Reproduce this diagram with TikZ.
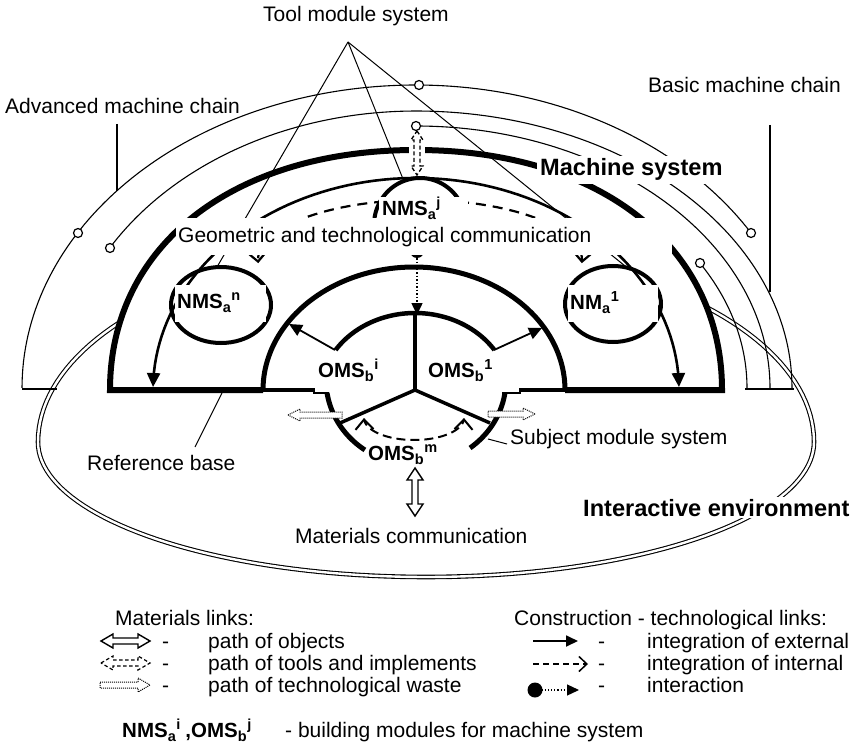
\documentclass[tikz,border=0pt]{standalone}
\usepackage{fontspec}
\setmainfont{Liberation Sans}
\usetikzlibrary{arrows.meta}
\newcommand\Earc[6]{plot[domain=#5:#6,samples=90,variable=\t]({#1+#3*cos(\t)},{#2-#4*sin(\t)})}
\newcommand\mlab[3]{{\fontsize{20.5}{24}\selectfont\bfseries #1\raisebox{-4pt}{\fontsize{14.5}{15}\selectfont #2}\hspace{0.6pt}\raisebox{8pt}{\fontsize{14.5}{15}\selectfont #3}}}
\tikzset{
  txt/.style={font=\fontsize{21}{25}\selectfont, inner sep=0pt, anchor=base west},
  bigb/.style={font=\fontsize{23.6}{28}\selectfont\bfseries, anchor=base west},
  modl/.style={inner sep=0pt, anchor=base west},
  thinl/.style={line width=1.1pt},
  leader/.style={line width=1pt},
  heavy/.style={line width=6pt},
  modarc/.style={line width=4pt},
  ring/.style={line width=1.2pt, fill=white},
  ext/.style={-{Triangle[length=13pt,width=12pt]}},
  hollow/.style={line width=1.4pt, fill=white, line join=miter},
}
\begin{document}
\begin{tikzpicture}[x=1pt,y=-1pt]
\useasboundingbox (0,0) rectangle (853,751);
\fill[white] (0,0) rectangle (853,751);

% interactive environment
\draw[line width=1.1pt, double=white, double distance=2.4pt] plot[domain=0:360,samples=181,variable=\t]({426+388*cos(\t)},{442-(165+30*sign(sin(\t)))*sin(\t)}) -- cycle;

% machine system area
\fill[white] (110,390) .. controls (110,246) and (232.4,150) .. (416,150) .. controls (599.6,150) and (722,246) .. (722,390) -- cycle;

% machine chains
\draw[thinl] plot[domain=30.8:180,samples=120,variable=\t]({416+(392-2*sign(cos(\t)))*cos(\t)},{388-303*sin(\t)});
\draw[thinl] plot[domain=0:149.6,samples=120,variable=\t]({416+(365.5+10.5*sign(cos(\t)))*cos(\t)},{388-277*sin(\t)});
\draw[thinl] \Earc{416}{388}{354}{262}{0}{90};
\draw[thinl] \Earc{416}{388}{331}{243}{0}{31};
\draw[thinl] (22,389) -- (57,389);
\draw[thinl] (745,389) -- (794,389);
\draw[thinl] (117,124) -- (117,191);
\draw[thinl] (770,125) -- (770,292);

% machine system outline
\draw[heavy, line join=miter] (263,390) -- (110,390) .. controls (110,246) and (232.4,150) .. (416,150) .. controls (599.6,150) and (722,246) .. (722,390) -- (565,390);
\fill[white] (409,143) rectangle (425,158);

% tool module system leaders
\coordinate (apex) at (348,42);
\draw[leader] (apex) -- (217,267);
\draw[leader] (apex) -- (403,179);
\draw[leader] (apex) -- (630,270);

% external integration arc
\draw[line width=2.6pt, {Triangle[length=14pt,width=13pt]}-{Triangle[length=14pt,width=13pt]}] \Earc{416}{390}{263}{212}{0.8}{179.2};

% internal (dashed) arc
\draw[line width=2.2pt, dash pattern=on 10pt off 7pt, {Straight Barb[length=8pt,width=16pt]}-{Straight Barb[length=8pt,width=16pt]}] \Earc{420}{260}{162}{60}{-3}{183};

% tool modules
\draw[modarc] \Earc{420}{225}{46}{47}{-22}{202};
\draw[modarc] (221,305) ellipse [x radius=50, y radius=38];
\draw[modarc] (613,304) ellipse [x radius=48, y radius=38];

% interaction
\fill (417,251) circle (7);
\draw[line width=1.5pt, dotted, -{Triangle[length=12pt,width=11pt]}] (417,251) -- (417,315);

% object module system
\draw[line width=5pt] \Earc{414}{390}{151}{123}{0}{180};
\draw[line width=4.5pt] \Earc{415}{395}{95}{82}{33.3}{146.7};
\draw[line width=3.5pt] (415,313) -- (415,390);
\draw[line width=3.5pt] (415,390) -- (340,423);
\draw[line width=3.5pt] (415,390) -- (490,423);
\draw[line width=4pt] (261,390) -- (315,390);
\draw[line width=2pt] (313,392.5) -- (329,392.5);
\draw[line width=4pt] (519,390) -- (567,390);
\draw[line width=2pt] (502,392.5) -- (521,392.5);
\draw[line width=5pt] \Earc{416}{380}{90}{85}{188.8}{235.4};
\draw[line width=5pt] \Earc{416}{380}{90}{85}{306.9}{351.2};
\draw[line width=1.8pt, ext] (335,350) -- (289,324);
\draw[line width=1.8pt, ext] (494,350) -- (542,328);

% white label boxes
\fill[white] (379,197) rectangle (468,218);
\fill[white] (175,285) rectangle (266,322);
\fill[white] (568,285) rectangle (658,322);
\fill[white] (176,218) rectangle (672,255);

% module labels
\node[modl] (nmsj) at (382,215) {\mlab{NMS}{a}{j}};
\node[modl] (nmsn) at (177,308) {\mlab{NMS}{a}{n}};
\node[modl] (nma1) at (570,309) {\mlab{NM}{a}{1}};
\node[modl] (omsi) at (318,377) {\mlab{OMS}{b}{i}};
\node[modl] (oms1) at (428,377) {\mlab{OMS}{b}{1}};
\node[modl] (omsm) at (368,460) {\mlab{OMS}{b}{m}};
\node[txt] (geo) at (178,242) {Geometric and technological communication};

\node[bigb, fill=white, inner sep=3pt] (ms) at (537,176) {Machine system};
\node[bigb, fill=white, inner sep=2pt] (ie) at (581,516) {Interactive environment};

% tools path
\draw[line width=1.3pt, dash pattern=on 4pt off 2.5pt, fill=white] (417,131) -- (423,140) -- (420,140) -- (420,166) -- (423,166) -- (417,175) -- (411,166) -- (414,166) -- (414,140) -- (411,140) -- cycle;

% chain joints
\draw[ring] (78,233) circle (4.5);
\draw[ring] (419,85) circle (4.5);
\draw[ring] (751,233) circle (4.5);
\draw[ring] (110,248) circle (4.5);
\draw[ring] (416,126) circle (4.5);
\draw[ring] (700,263) circle (4.5);

% waste paths
\draw[densely dotted, line width=1pt, fill=white] (288,415) -- (300,409) -- (300,412) -- (342,412) -- (342,418) -- (300,418) -- (300,421) -- cycle;
\draw[densely dotted, line width=1pt, fill=white] (535,414) -- (523,408) -- (523,411) -- (488,411) -- (488,417) -- (523,417) -- (523,420) -- cycle;

% internal integration in subject modules
\draw[line width=2pt, dash pattern=on 9pt off 5pt, {Straight Barb[length=10pt,width=18pt]}-{Straight Barb[length=10pt,width=18pt]}] \Earc{414}{418}{50}{22}{180}{360};

% materials communication
\draw[hollow] (415,468) -- (423,480) -- (418,480) -- (418,504) -- (423,504) -- (415,516) -- (407,504) -- (412,504) -- (412,480) -- (407,480) -- cycle;

% texts
\node[txt] (tms) at (263,22) {Tool module system};
\node[txt] (amc) at (5,114) {Advanced machine chain};
\node[txt] (bmc) at (648,93) {Basic machine chain};
\node[txt] (rb) at (87,470) {Reference base};
\draw[leader] (222,393) -- (195,447);
\node[txt] (sms) at (510,444) {Subject module system};
\draw[leader] (488,439) -- (507,444);
\node[txt] (mc) at (295,543) {Materials communication};

% legend
\node[txt] (ml) at (115,625) {Materials links:};
\node[txt] (cl) at (514,625) {Construction - technological links:};
\draw[hollow] (101,641) -- (113,634) -- (113,638) -- (138,638) -- (138,634) -- (150,641) -- (138,648) -- (138,644) -- (113,644) -- (113,648) -- cycle;
\draw[hollow, line width=1.2pt, dash pattern=on 3.5pt off 2.5pt] (101,663) -- (113,656) -- (113,660) -- (138,660) -- (138,656) -- (150,663) -- (138,670) -- (138,666) -- (113,666) -- (113,670) -- cycle;
\draw[densely dotted, line width=1pt] (100,682) -- (138,682) -- (138,678) -- (150,685) -- (138,692) -- (138,688) -- (100,688) -- cycle;
\node[txt] at (162,648) {-};
\node[txt] at (162,670) {-};
\node[txt] at (162,692) {-};
\node[txt] at (208,648) {path of objects};
\node[txt] at (208,670) {path of tools and implements};
\node[txt] at (208,692) {path of technological waste};

\draw[line width=1.8pt, -{Triangle[length=12pt,width=11pt]}] (533,641) -- (578,641);
\draw[line width=1.5pt, dash pattern=on 6pt off 4pt, -{Straight Barb[length=8pt,width=15pt]}] (533,664) -- (588,664);
\fill (535,690) circle (7.5);
\draw[line width=1.2pt, dotted, -{Triangle[length=12pt,width=11pt]}] (535,690) -- (579,690);
\node[txt] at (598,648) {-};
\node[txt] at (598,670) {-};
\node[txt] at (598,692) {-};
\node[txt] at (647,648) {integration of external};
\node[txt] at (647,670) {integration of internal};
\node[txt] at (647,692) {interaction};

\node[modl] (bm) at (122,737) {\mlab{NMS}{a}{i}\hspace{5pt}{\fontsize{20.5}{24}\selectfont\bfseries ,}\mlab{OMS}{b}{j}};
\node[txt] at (285,737) {- building modules for machine system};
\end{tikzpicture}
\end{document}
